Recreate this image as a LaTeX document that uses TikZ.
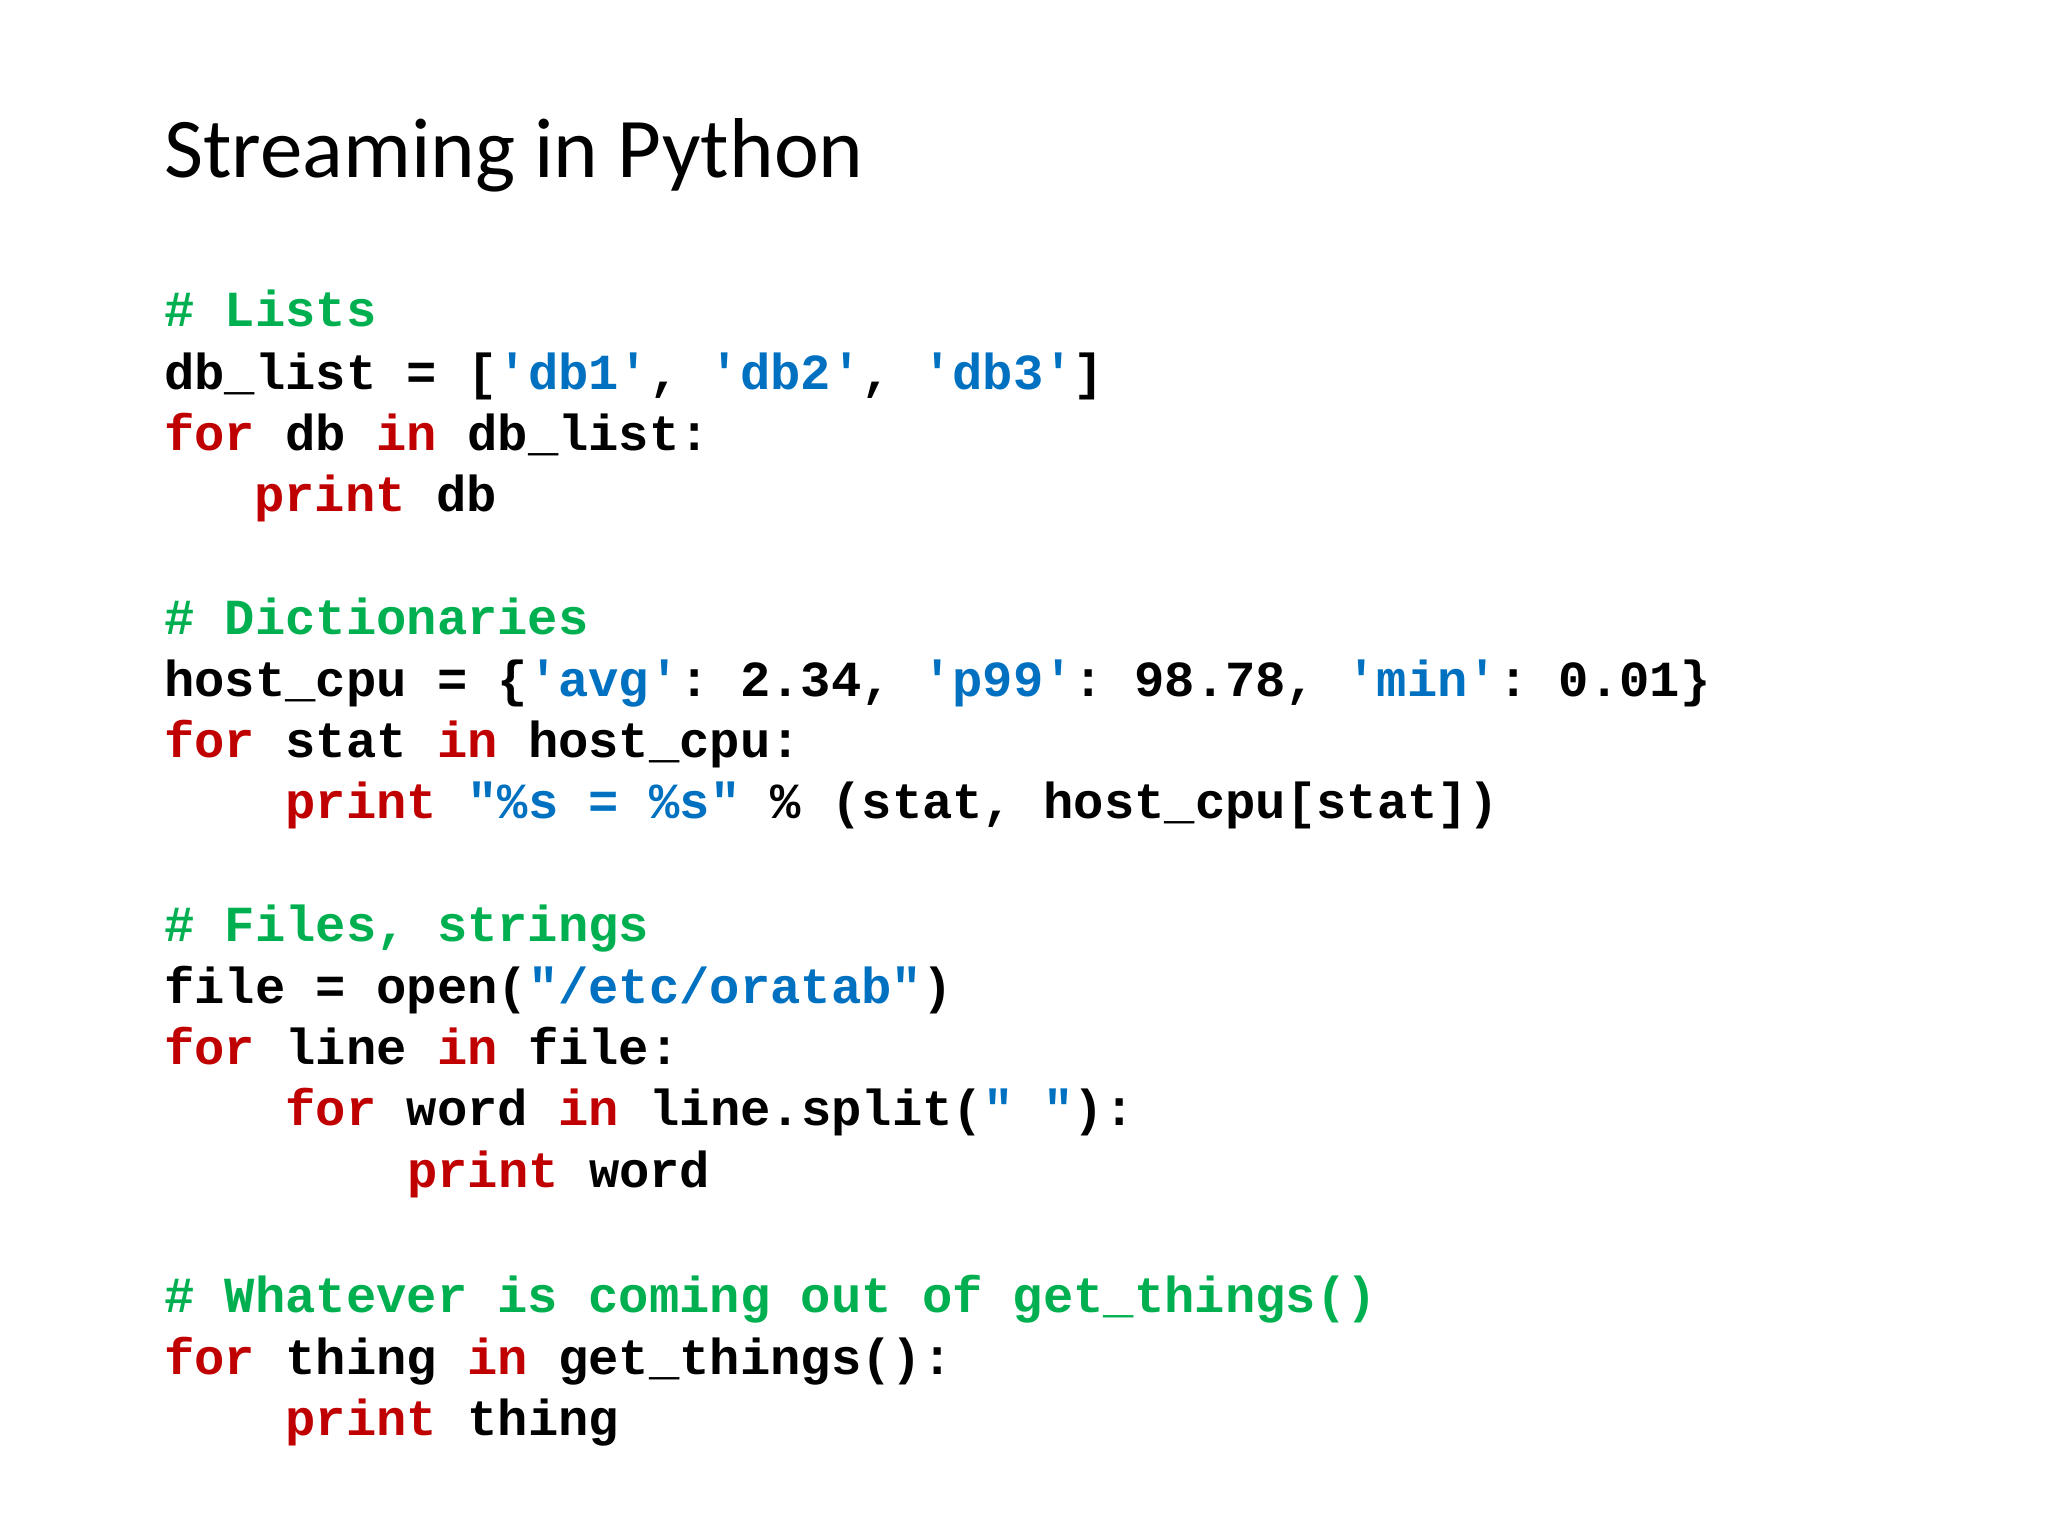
\documentclass[tikz,border=0pt]{standalone}
\usepackage{fontspec}
\setmainfont{Carlito}
\setmonofont{Liberation Mono}
\definecolor{kwred}{RGB}{192,0,0}
\definecolor{cmgreen}{RGB}{0,176,80}
\definecolor{strblue}{RGB}{0,112,192}
\newcommand{\kw}[1]{\textcolor{kwred}{#1}}
\newcommand{\cm}[1]{\textcolor{cmgreen}{#1}}
\newcommand{\st}[1]{\textcolor{strblue}{#1}}
\begin{document}
\begin{tikzpicture}[x=0.01cm,y=-0.01cm,
  code/.style={anchor=base west,inner sep=0pt,font=\fontsize{11}{13}\ttfamily\bfseries}]
\useasboundingbox (0,0) rectangle (1568,1176);
\node[anchor=base west,inner sep=0pt,font=\fontsize{18.5}{22}\selectfont] (title) at (125,136) {Streaming in Python};
% lists
\node[code] (l1) at (125,250) {\cm{\# Lists}};
\node[code] (l2) at (125,298) {db\_list = [\st{'db1'}, \st{'db2'}, \st{'db3'}]};
\node[code] (l3) at (125,345) {\kw{for} db \kw{in} db\_list:};
\node[code] (l4) at (194,392) {\kw{print} db};
% dictionaries
\node[code] (d1) at (125,486) {\cm{\# Dictionaries}};
\node[code] (d2) at (125,533) {host\_cpu = \{\st{'avg'}: 2.34, \st{'p99'}: 98.78, \st{'min'}: 0.01\}};
\node[code] (d3) at (125,580) {\kw{for} stat \kw{in} host\_cpu:};
\node[code] (d4) at (218,627) {\kw{print} \st{"\%s = \%s"} \% (stat, host\_cpu[stat])};
% files
\node[code] (f1) at (125,721) {\cm{\# Files, strings}};
\node[code] (f2) at (125,768) {file = open(\st{"/etc/oratab"})};
\node[code] (f3) at (125,815) {\kw{for} line \kw{in} file:};
\node[code] (f4) at (218,862) {\kw{for} word \kw{in} line.split(\st{" "}):};
\node[code] (f5) at (311,909) {\kw{print} word};
% generators
\node[code] (g1) at (125,1005) {\cm{\# Whatever is coming out of get\_things()}};
\node[code] (g2) at (125,1052) {\kw{for} thing \kw{in} get\_things():};
\node[code] (g3) at (218,1099) {\kw{print} thing};
\end{tikzpicture}
\end{document}
